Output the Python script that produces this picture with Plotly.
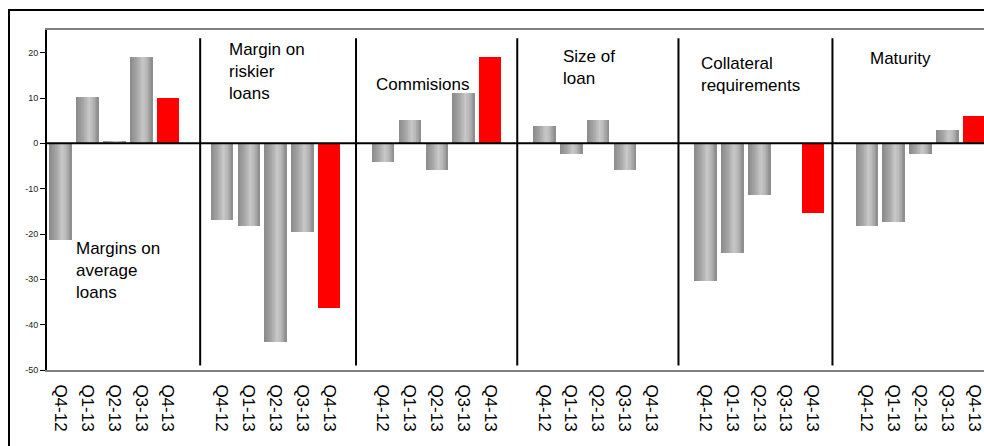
import plotly.graph_objects as go

# ---------------- data ----------------
groups = ["Margins on<br>average<br>loans", "Margin on<br>riskier<br>loans", "Commisions",
          "Size of<br>loan", "Collateral<br>requirements", "Maturity"]
quarters = ["Q4-12", "Q1-13", "Q2-13", "Q3-13", "Q4-13"]

margins_average = [-21.3, 10.2, 0.6, 19.0, 10.0]
margins_riskier = [-17.0, -18.3, -43.8, -19.6, -36.4]
commissions = [-4.1, 5.2, -5.8, 11.0, 19.0]
size_of_loan = [3.9, -2.4, 5.2, -5.8, 0.0]
collateral = [-30.4, -24.2, -11.4, 0.0, -15.3]
maturity = [-18.3, -17.4, -2.4, 2.9, 6.0]
series = [margins_average, margins_riskier, commissions, size_of_loan, collateral, maturity]

y_tick_vals = [-50, -40, -30, -20, -10, 0, 10, 20]
y_tick_text = ["-50", "-40", "-30", "-20", "-10", "0", "10", "20"]

# ---------------- style ----------------
FONT = "Arial, Liberation Sans, sans-serif"
SLOT = len(quarters) + 1          # one empty slot between groups
BAR_W = 0.82
RED = "#FF0000"
# gradient control points of the grey bars: (fraction across bar, grey level)
grad_ctrl = [(0.0, 0x8a), (0.3, 0xa4), (0.58, 0xc8), (0.75, 0xb8), (1.0, 0x8c)]
N_STRIPS = 30
# label positions (left, top) in axis units, one per group
label_pos = [(0.5, -20.7), (6.2, 23.2), (11.68, 15.6), (18.64, 21.7), (23.75, 20.1), (30.05, 21.2)]
sep_nudge = [0.2, 0.0, 0.0, 0.0, -0.27]


def grey_at(t):
    for (t0, c0), (t1, c1) in zip(grad_ctrl[:-1], grad_ctrl[1:]):
        if t0 <= t <= t1:
            return c0 + (c1 - c0) * (t - t0) / (t1 - t0)
    return grad_ctrl[-1][1]


# ---------------- build ----------------
gx, gy, rx, ry = [], [], [], []
tickvals, ticktext = [], []
for g, vals in enumerate(series):
    for q, v in enumerate(vals):
        pos = g * SLOT + q
        tickvals.append(pos)
        ticktext.append(quarters[q])
        if q == len(quarters) - 1:
            rx.append(pos); ry.append(v)
        else:
            gx.append(pos); gy.append(v)

fig = go.Figure()
sw = BAR_W / N_STRIPS
for k in range(N_STRIPS):
    c = int(round(grey_at((k + 0.5) / N_STRIPS)))
    col = "#%02x%02x%02x" % (c, c, c)
    fig.add_trace(go.Bar(x=gx, y=gy, width=BAR_W - k * sw, offset=-BAR_W / 2 + k * sw,
                         marker=dict(color=col, line=dict(width=0)), showlegend=False,
                         hoverinfo="skip"))
fig.add_trace(go.Bar(x=rx, y=ry, width=BAR_W, offset=-BAR_W / 2,
                     marker=dict(color=RED, line=dict(width=0)), showlegend=False))

n_slots_visible = 34.87
shapes = []
shapes.append(dict(type="line", xref="paper", yref="y", x0=0, x1=1, y0=0, y1=0,
                   line=dict(color="black", width=2), layer="above"))
for g in range(1, len(groups)):
    xs = g * SLOT - 1 + sep_nudge[g - 1]
    shapes.append(dict(type="line", xref="x", yref="y", x0=xs, x1=xs, y0=-49, y1=23.2,
                       line=dict(color="black", width=2), layer="above"))
shapes.append(dict(type="rect", xref="paper", yref="paper",
                   x0=(9 - 47) / 937, x1=1.2, y0=-0.5, y1=(370 - 10) / 340,
                   line=dict(color="black", width=2), fillcolor="rgba(0,0,0,0)", layer="below"))

annotations = []
for (ax, ay), txt in zip(label_pos, groups):
    annotations.append(dict(x=ax, y=ay, xref="x", yref="y", text=txt, showarrow=False,
                            xanchor="left", yanchor="top", align="left",
                            font=dict(family=FONT, size=17, color="black")))

fig.update_layout(
    width=984, height=446,
    margin=dict(l=47, r=0, t=30, b=76),
    paper_bgcolor="white", plot_bgcolor="white",
    barmode="overlay", bargap=0,
    shapes=shapes, annotations=annotations,
    font=dict(family=FONT, color="black"),
)
fig.update_xaxes(range=[-0.5, n_slots_visible - 0.5], tickvals=tickvals, ticktext=ticktext,
                 tickangle=90, tickfont=dict(family=FONT, size=17, color="black"),
                 showline=True, linecolor="#808080", linewidth=2, mirror=True,
                 showgrid=False, zeroline=False, ticks="", ticklabelstandoff=9)
fig.update_yaxes(range=[-50, 25], tickvals=y_tick_vals, ticktext=y_tick_text,
                 tickfont=dict(family=FONT, size=9, color="#222222"),
                 showline=True, linecolor="black", linewidth=2,
                 ticks="outside", ticklen=5, tickwidth=1, tickcolor="black",
                 showgrid=False, zeroline=False)

fig.write_html("out.html")
